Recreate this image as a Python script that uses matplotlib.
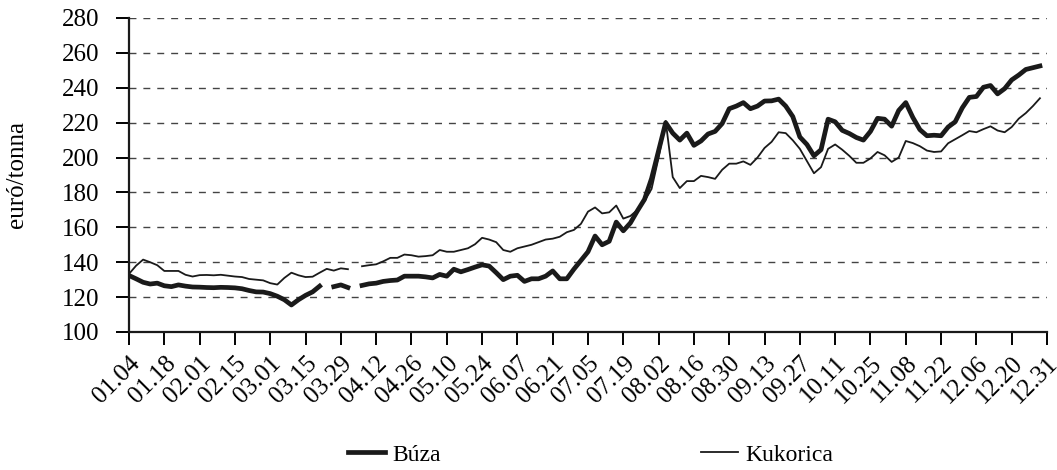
import numpy as np
import pandas as pd
import matplotlib
matplotlib.use("Agg")
import matplotlib.pyplot as plt
from matplotlib.transforms import ScaledTranslation

nan = np.nan

# trading days of the year; values read every second trading day
trading_days = pd.bdate_range("2010-01-04", "2010-12-31")
sample_days = trading_days[::2]

buza = [
    132.4, 130.5, 128.5, 127.5, 128, 126.5, 126, 127, 126.3, 125.8,
    125.7, 125.5, 125.4, 125.6, 125.5, 125.3, 124.8, 123.8, 123, 122.9,
    122, 120.5, 118.5, 115.5, 118.5, 121, 123, 126.3, nan, 126,
    127, 125.5, nan, 126.7, 127.6, 128, 129, 129.5, 129.8, 132,
    132, 132, 131.6, 131, 133, 132, 136, 134.5, 135.8, 137.2,
    138.5, 137.8, 134, 130, 132, 132.5, 129, 130.5, 130.5, 132,
    135, 130.5, 130.5, 136, 141, 146, 155, 150, 152, 163,
    158, 162.5, 169.5, 176, 188, 204, 220, 214, 210, 214,
    207, 209.5, 213.5, 215, 219.5, 228, 229.5, 231.5, 228, 229.5,
    232.4, 232.5, 233.5, 229.5, 223.5, 211.8, 207.5, 201, 204.5, 222,
    220.5, 215.6, 213.8, 211.5, 210, 215, 222.5, 222, 218, 227,
    231.5, 223, 216, 212.5, 212.8, 212.5, 217.5, 220.5, 228.5, 234.5,
    235, 240.3, 241.3, 236.5, 239.5, 244.5, 247.3, 250.5, 251.5, 252.5,
]

kukorica = [
    133.3, 138, 141.5, 140, 138.3, 135, 135, 135, 132.8, 131.8,
    132.6, 132.7, 132.5, 132.8, 132.3, 131.8, 131.5, 130.4, 130, 129.6,
    128, 127.2, 131, 134, 132.5, 131.5, 131.7, 134, 136.2, 135.2,
    136.5, 136, nan, 137.7, 138.3, 138.8, 140.5, 142.5, 142.5, 144.4,
    144, 143.2, 143.5, 144, 147, 146, 146, 147, 148, 150.3,
    154, 153, 151.5, 147, 146, 148, 149, 150, 151.5, 153,
    153.5, 154.6, 157.2, 158.5, 162, 169, 171.4, 168, 168.6, 172.5,
    165, 166.5, 170, 175, 182, 200, 221, 188.8, 182.5, 186.5,
    186.5, 189.5, 188.8, 187.8, 193, 196.5, 196.5, 197.8, 195.8, 200,
    205.5, 209, 214.5, 214, 209.9, 205, 198, 191, 194.5, 205,
    207.5, 204.5, 201, 197, 197, 199.5, 203.2, 201.3, 197.5, 200,
    209.5, 208.3, 206.5, 204, 203.2, 203.5, 208.2, 210.5, 212.8, 215.2,
    214.5, 216.3, 217.9, 215.5, 214.5, 217.5, 222.3, 225.5, 229.5, 234,
]

x_labels = ["01.04", "01.18", "02.01", "02.15", "03.01", "03.15", "03.29",
            "04.12", "04.26", "05.10", "05.24", "06.07", "06.21", "07.05",
            "07.19", "08.02", "08.16", "08.30", "09.13", "09.27", "10.11",
            "10.25", "11.08", "11.22", "12.06", "12.20", "12.31"]
y_ticks = [100, 120, 140, 160, 180, 200, 220, 240, 260, 280]
series_names = ["Búza", "Kukorica"]
y_title = "euró/tonna"

plt.rcParams["font.family"] = ["Liberation Serif", "DejaVu Serif"]
FS = 18

fig = plt.figure(figsize=(10.57, 4.70), dpi=100)
L, R, B, T = 129 / 1057, 1047 / 1057, 1 - 332 / 470, 1 - 18 / 470
ax = fig.add_axes([L, B, R - L, T - B])

x = trading_days.get_indexer(sample_days)
ink = "#1a1a1a"
ax.plot(x, buza, color=ink, lw=3.4, solid_joinstyle="round", label=series_names[0], zorder=3)
ax.plot(x, kukorica, color=ink, lw=1.3, label=series_names[1], zorder=4)

n = len(trading_days)
tick_pos = np.arange(0, n + 1, 10)
ax.set_xticks(tick_pos)
ax.set_xticklabels(x_labels, rotation=45, ha="right", va="top",
                   rotation_mode="anchor", fontsize=FS)
shift = ScaledTranslation(4 / 100, 0, fig.dpi_scale_trans)
for lab in ax.get_xticklabels():
    lab.set_transform(lab.get_transform() + shift)
ax.set_xlim(0, n)
ax.set_ylim(100, 280)
ax.set_yticks(y_ticks)
ax.tick_params(axis="y", labelsize=FS, length=9.5, width=1.4, direction="out", pad=12)
ax.tick_params(axis="x", length=9.5, width=1.4, direction="out", pad=5)

for v in y_ticks[1:]:
    ax.axhline(v, color="#444444", lw=1.0, dashes=(5, 5), zorder=1)

for s in ["top", "right"]:
    ax.spines[s].set_visible(False)
for s in ["left", "bottom"]:
    ax.spines[s].set_linewidth(1.6)
    ax.spines[s].set_color(ink)

ax.set_ylabel(y_title, fontsize=FS)
ax.yaxis.set_label_coords(-0.110, 0.5)

leg = fig.legend(loc="center", bbox_to_anchor=(0.5587, 0.032), ncol=2,
                 frameon=False, fontsize=17, handlelength=1.6,
                 columnspacing=11.0, handletextpad=0.3)

fig.savefig("out.png", dpi=100)
